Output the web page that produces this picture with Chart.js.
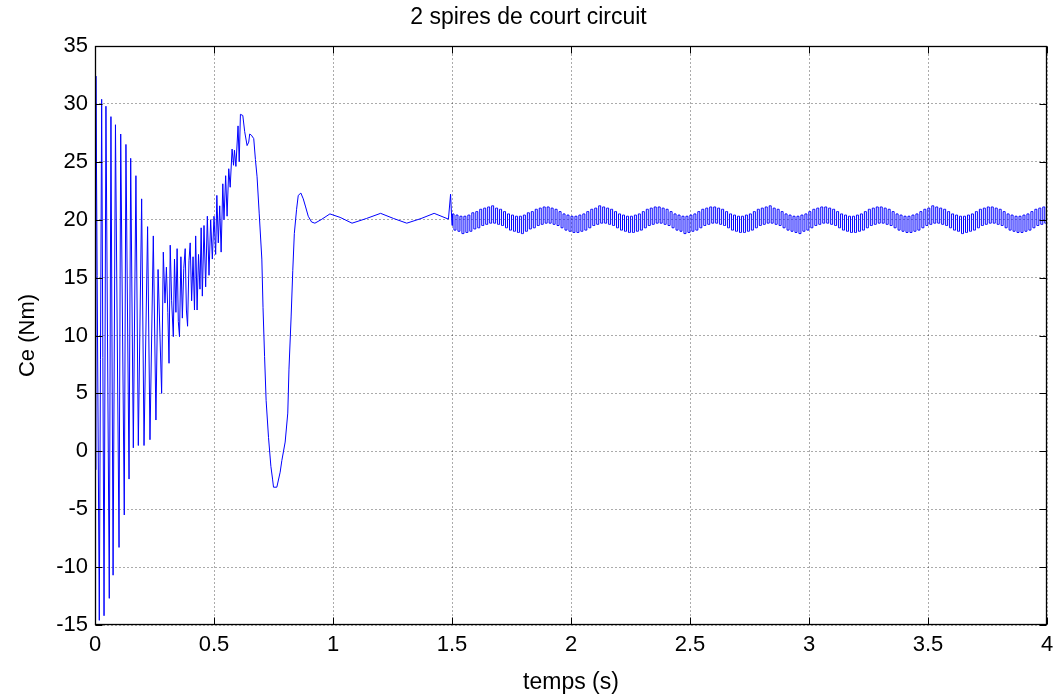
<!DOCTYPE html>
<html>
<head>
<meta charset="utf-8">
<script src="https://cdn.jsdelivr.net/npm/chart.js@4/dist/chart.umd.min.js"></script>
<style>
  body { margin: 0; background: #fff; }
  canvas { display: block; }
</style>
</head>
<body>
<canvas id="torque" width="1061" height="696"></canvas>
<script>
// start-up transient (time in s, Ce in Nm)
const tStart = [
  0, 0.004, 0.009, 0.018, 0.028, 0.038, 0.046, 0.060, 0.067, 0.076,
  0.086, 0.101, 0.108, 0.123, 0.130, 0.143, 0.150, 0.161, 0.172, 0.182,
  0.196, 0.206, 0.221, 0.231, 0.245, 0.256, 0.265, 0.280, 0.287, 0.294,
  0.300, 0.306, 0.311, 0.316, 0.322, 0.329, 0.334, 0.340, 0.345, 0.350,
  0.355, 0.361, 0.367, 0.373, 0.379, 0.384, 0.389, 0.395, 0.400, 0.406,
  0.412, 0.418, 0.423, 0.429, 0.435, 0.441, 0.446, 0.451, 0.458, 0.465,
  0.472, 0.479, 0.486, 0.493, 0.500, 0.507, 0.512, 0.518, 0.524, 0.530,
  0.537, 0.542, 0.549, 0.555, 0.562, 0.568, 0.576, 0.582, 0.586, 0.592,
  0.601, 0.606, 0.611, 0.621, 0.629, 0.639, 0.646, 0.650, 0.657, 0.667
];
const ceStart = [
  -1.6, 32.4, 15.2, -14.6, 30.4, -14.2, 29.8, -12.7, 28.9, -10.7,
  28.2, -8.3, 27.4, -5.5, 26.5, -2.4, 25.3, 0.3, 23.8, 0.5,
  21.8, 0.5, 19.4, 1.0, 18.6, 2.7, 15.7, 5.0, 17.2, 12.8,
  15.9, 12.0, 7.6, 17.8, 13.0, 9.9, 16.6, 12.0, 17.5, 11.2,
  9.9, 16.8, 11.5, 15.8, 17.5, 12.2, 10.8, 16.5, 18.0, 13.0,
  16.8, 12.2, 18.6, 12.2, 17.0, 14.0, 19.3, 13.4, 19.5, 14.2,
  20.3, 15.2, 20.0, 16.6, 20.3, 17.0, 22.1, 18.0, 21.2, 17.2,
  23.1, 20.0, 23.8, 20.3, 24.4, 22.8, 26.1, 24.7, 26.0, 24.6,
  28.1, 25.0, 29.1, 29.0, 27.6, 26.4, 26.7, 27.4, 27.3, 27.0
];

// dip, overshoot and slow settling up to the fault at 1.5 s
const tMid = [
  0.674, 0.681, 0.690, 0.701, 0.706, 0.7125, 0.719, 0.729, 0.739, 0.746,
  0.750, 0.764, 0.778, 0.785, 0.799, 0.810, 0.815, 0.824, 0.831, 0.8375,
  0.847, 0.854, 0.865, 0.875, 0.885, 0.896, 0.910, 0.924, 0.950, 0.987,
  1.03, 1.08, 1.14, 1.20, 1.255, 1.31, 1.37, 1.425, 1.485, 1.494, 1.50
];
const ceMid = [
  25.2, 23.7, 20.5, 16.6, 12.4, 8.2, 4.4, 1.2, -1.3, -2.4,
  -3.1, -3.1, -1.8, -0.8, 0.8, 3.3, 7.1, 11.6, 15.6, 18.8,
  20.9, 22.1, 22.3, 21.8, 21.1, 20.3, 19.8, 19.7, 20.0, 20.5,
  20.2, 19.7, 20.1, 20.55, 20.1, 19.7, 20.1, 20.55, 20.05, 22.2, 19.5
];

// ripple with the 2 shorted turns, evenly sampled (hi/lo pairs) from 1.5042 s
const rippleStart = 1.5042;
const rippleStep = 0.00833;
const ceRipple = [
  20.5, 19.1, 20.4, 19.0, 20.3, 18.8, 20.3, 18.9, 20.4, 19.0,
  20.6, 19.2, 20.7, 19.3, 20.9, 19.5, 21.0, 19.6,
  21.1, 19.7, 21.2, 19.7, 21.0, 19.6, 20.9, 19.5, 20.7, 19.3,
  20.5, 19.1, 20.4, 19.0, 20.3, 18.9, 20.3, 18.8, 20.4, 19.0,
  20.6, 19.2, 20.7, 19.3, 20.9, 19.5, 21.0, 19.6,
  21.1, 19.7, 21.1, 19.7, 21.0, 19.6, 20.9, 19.5, 20.7, 19.3,
  20.5, 19.1, 20.4, 19.0, 20.3, 18.9, 20.3, 18.9, 20.4, 19.0,
  20.5, 19.1, 20.7, 19.3, 20.9, 19.5, 21.0, 19.6,
  21.2, 19.7, 21.1, 19.7, 21.0, 19.6, 20.9, 19.5, 20.7, 19.3,
  20.5, 19.1, 20.4, 19.0, 20.3, 18.9, 20.3, 18.9, 20.4, 19.0,
  20.5, 19.1, 20.7, 19.3, 20.9, 19.5, 21.0, 19.6,
  21.1, 19.7, 21.1, 19.7, 21.0, 19.6, 20.9, 19.5, 20.7, 19.3,
  20.5, 19.1, 20.4, 19.0, 20.3, 18.8, 20.3, 18.9, 20.4, 19.0,
  20.5, 19.1, 20.7, 19.3, 20.9, 19.5, 21.0, 19.6,
  21.1, 19.7, 21.1, 19.7, 21.0, 19.6, 20.9, 19.5, 20.7, 19.3,
  20.5, 19.1, 20.4, 19.0, 20.3, 18.9, 20.3, 18.9, 20.4, 19.0,
  20.5, 19.1, 20.7, 19.3, 20.9, 19.5, 21.0, 19.6,
  21.1, 19.7, 21.2, 19.7, 21.0, 19.6, 20.9, 19.5, 20.7, 19.3,
  20.5, 19.1, 20.4, 19.0, 20.3, 18.9, 20.3, 18.8, 20.4, 19.0,
  20.5, 19.1, 20.7, 19.3, 20.9, 19.5, 21.0, 19.6,
  21.1, 19.7, 21.1, 19.7, 21.0, 19.6, 20.9, 19.5, 20.7, 19.3,
  20.5, 19.1, 20.4, 19.0, 20.3, 18.9, 20.3, 18.9, 20.4, 19.0,
  20.5, 19.1, 20.7, 19.3, 20.9, 19.5, 21.0, 19.6,
  21.1, 19.7, 21.1, 19.7, 21.0, 19.6, 20.9, 19.5, 20.7, 19.3,
  20.5, 19.1, 20.4, 19.0, 20.3, 18.9, 20.3, 18.9, 20.4, 19.0,
  20.5, 19.1, 20.7, 19.3, 20.9, 19.5, 21.0, 19.6,
  21.2, 19.7, 21.1, 19.7, 21.0, 19.6, 20.9, 19.5, 20.7, 19.3,
  20.5, 19.1, 20.4, 19.0, 20.3, 18.8, 20.3, 18.9, 20.4, 19.0,
  20.5, 19.1, 20.7, 19.3, 20.9, 19.5, 21.0, 19.6,
  21.1, 19.7, 21.1, 19.7, 21.0, 19.6, 20.9, 19.5, 20.7, 19.3,
  20.5, 19.1, 20.4, 19.0, 20.3, 18.9, 20.3, 18.9, 20.4, 19.0,
  20.5, 19.1, 20.7, 19.3, 20.9, 19.5, 21.0, 19.6,
  21.1, 19.7
];

const xTicks = [0, 0.5, 1, 1.5, 2, 2.5, 3, 3.5, 4];
const yTicks = [-15, -10, -5, 0, 5, 10, 15, 20, 25, 30, 35];

const FONT = "'Liberation Sans', Arial, sans-serif";
const BLUE = "#0000ff";

function transientPoints() {
  const pts = [];
  tStart.forEach((t, i) => pts.push({ x: t, y: ceStart[i] }));
  tMid.forEach((t, i) => pts.push({ x: t, y: ceMid[i] }));
  return pts;
}

function ripplePoints() {
  // begins where the transient ends so the trace stays connected
  const last = tMid.length - 1;
  const pts = [{ x: tMid[last], y: ceMid[last] }];
  ceRipple.forEach((v, i) => pts.push({ x: rippleStart + i * rippleStep, y: v }));
  return pts;
}

// matlab-like box with inward ticks on all four sides
const axesBox = {
  id: "axesBox",
  afterDatasetsDraw(chart) {
    const { ctx, chartArea: a, scales } = chart;
    const L = Math.round(a.left) + 0.5, R = Math.round(a.right) - 0.5;
    const T = Math.round(a.top) + 0.5, B = Math.round(a.bottom) - 0.5;
    ctx.save();
    ctx.strokeStyle = "#000";
    ctx.lineWidth = 1;
    ctx.beginPath();
    xTicks.forEach((v) => {
      const px = Math.round(scales.x.getPixelForValue(v)) + 0.5;
      ctx.moveTo(px, B); ctx.lineTo(px, B - 7);
      ctx.moveTo(px, T); ctx.lineTo(px, T + 7);
    });
    yTicks.forEach((v) => {
      const py = Math.round(scales.y.getPixelForValue(v)) + 0.5;
      ctx.moveTo(L, py); ctx.lineTo(L + 7, py);
      ctx.moveTo(R, py); ctx.lineTo(R - 7, py);
    });
    ctx.stroke();
    ctx.lineWidth = 1.3;
    ctx.strokeRect(L, T, R - L, B - T);
    ctx.restore();
  },
};

const gridOpts = { color: "rgba(0,0,0,0.33)", drawTicks: false, tickLength: 0 };
const tickFont = { family: FONT, size: 22 };

new Chart(document.getElementById("torque"), {
  type: "line",
  data: {
    datasets: [
      {
        data: transientPoints(),
        borderColor: BLUE,
        borderWidth: 1,
        pointRadius: 0,
        tension: 0,
        fill: false,
      },
      {
        data: ripplePoints(),
        borderColor: BLUE,
        borderWidth: 1,
        pointRadius: 0,
        stepped: "middle",
        fill: false,
      },
    ],
  },
  options: {
    responsive: false,
    animation: false,
    devicePixelRatio: 1,
    parsing: false,
    layout: { padding: { left: 10, right: 14, top: 0, bottom: 0 } },
    plugins: {
      legend: { display: false },
      tooltip: { enabled: false },
      title: {
        display: true,
        text: "2 spires de court circuit",
        color: "#000",
        font: { family: FONT, size: 23, weight: "normal" },
        padding: { top: 4.2, bottom: 14.2 },
      },
    },
    scales: {
      x: {
        type: "linear",
        min: 0,
        max: 4,
        afterBuildTicks: (s) => { s.ticks = xTicks.map((v) => ({ value: v })); },
        afterFit: (s) => { s.height = 71; },
        ticks: {
          color: "#000",
          font: tickFont,
          padding: 7,
          maxRotation: 0,
          autoSkip: false,
          callback: (v) => String(v),
        },
        grid: gridOpts,
        border: { display: false, dash: [2, 2] },
        title: {
          display: true,
          text: "temps (s)",
          color: "#000",
          font: { family: FONT, size: 23 },
          padding: { top: 0, bottom: 0 },
        },
      },
      y: {
        type: "linear",
        min: -15,
        max: 35,
        afterBuildTicks: (s) => { s.ticks = yTicks.map((v) => ({ value: v })); },
        afterFit: (s) => { s.width = 85; },
        ticks: { color: "#000", font: tickFont, padding: 7, autoSkip: false, callback: (v) => String(v) },
        grid: gridOpts,
        border: { display: false, dash: [2, 2] },
        title: {
          display: true,
          text: "Ce (Nm)",
          color: "#000",
          font: { family: FONT, size: 22 },
          padding: { top: 4.8, bottom: 0 },
        },
      },
    },
  },
  plugins: [axesBox],
});
</script>
</body>
</html>
